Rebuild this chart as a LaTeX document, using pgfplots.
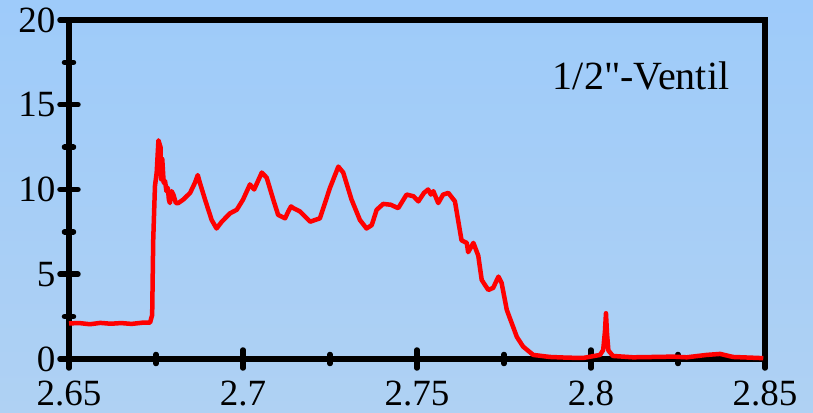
\documentclass[border=0pt]{standalone}
\usepackage{pgfplots}
\pgfplotsset{compat=1.18}
\usepackage{fontspec}
\setmainfont{Liberation Serif}
\newfontfamily\plainserif{Liberation Serif}
\definecolor{bgtop}{RGB}{158,203,250}
\definecolor{bgbot}{RGB}{175,209,243}
\definecolor{curve}{RGB}{255,0,0}
\begin{document}
\begin{tikzpicture}[x=1pt,y=1pt]
\shade[top color=bgtop,bottom color=bgbot] (-69,-53) rectangle (744,359);
\begin{axis}[
  at={(0,0)}, anchor=south west,
  scale only axis, width=696pt, height=339pt,
  xmin=2.65, xmax=2.85, ymin=0, ymax=20,
  axis line style={line width=5.5pt, line cap=round, black},
  xtick={2.65,2.7,2.75,2.8,2.85},
  ytick={0,5,10,15,20},
  minor xtick={2.675,2.725,2.775,2.825},
  minor ytick={2.5,7.5,12.5,17.5},
  xticklabels={2.65,2.7,2.75,2.8,2.85},
  tick align=center,
  major tick length=18pt,
  minor tick length=9pt,
  tick style={black, line width=5.5pt, line cap=round},
  xtick pos=bottom, ytick pos=left,
  ticklabel style={font=\fontsize{37}{40}\selectfont},
  /pgf/number format/assume math mode=true,
  yticklabel style={anchor=east, xshift=-1pt},
  xticklabel style={anchor=north, yshift=-9pt},
  clip=false,
]
\addplot[curve, line width=4.5pt, line join=round] coordinates {
(2.6500,2.10) (2.6530,2.12) (2.6560,2.05) (2.6590,2.13) (2.6620,2.08)
(2.6650,2.12) (2.6680,2.07) (2.6710,2.14) (2.6733,2.15) (2.6739,2.6)
(2.6742,7.0) (2.6747,10.2) (2.6752,11.0) (2.6757,12.9) (2.6760,12.7)
(2.6763,12.5) (2.6765,10.6) (2.6768,11.8) (2.6772,10.4) (2.6776,10.5)
(2.6780,9.9) (2.6784,10.1) (2.6787,9.4) (2.6790,9.2) (2.6795,9.9)
(2.6800,9.7) (2.6807,9.2) (2.6814,9.2) (2.6828,9.4) (2.6848,9.8)
(2.6862,10.4) (2.6870,10.85) (2.6876,10.4) (2.6891,9.4) (2.6910,8.2)
(2.6924,7.7) (2.6939,8.1) (2.6963,8.6) (2.6982,8.8) (2.7000,9.4)
(2.7020,10.3) (2.7032,10.0) (2.7054,11.0) (2.7068,10.7) (2.7087,9.4)
(2.7101,8.5) (2.7121,8.3) (2.7130,8.7) (2.7138,9.0) (2.7145,8.9)
(2.7164,8.7) (2.7193,8.1) (2.7221,8.3) (2.7250,10.1) (2.7274,11.35)
(2.7288,11.0) (2.7312,9.4) (2.7336,8.2) (2.7355,7.7) (2.7370,7.9)
(2.7384,8.8) (2.7403,9.15) (2.7425,9.1) (2.7435,9.0) (2.7446,8.9)
(2.7458,9.3) (2.7470,9.7) (2.7490,9.6) (2.7504,9.3) (2.7520,9.8)
(2.7532,10.0) (2.7540,9.7) (2.7547,9.9) (2.7561,9.2) (2.7575,9.7)
(2.7590,9.8) (2.7609,9.3) (2.7628,7.0) (2.7643,6.85) (2.7647,6.3)
(2.7662,6.85) (2.7676,6.1) (2.7686,4.66) (2.7705,4.07) (2.7719,4.2)
(2.7734,4.86) (2.7743,4.5) (2.7758,2.9) (2.7767,2.4) (2.7787,1.3)
(2.7805,0.73) (2.7834,0.24) (2.7882,0.12) (2.7930,0.08) (2.7977,0.06)
(2.8026,0.24) (2.8035,0.53) (2.8040,1.6) (2.8043,2.7) (2.8046,1.5)
(2.8050,0.5) (2.8063,0.18) (2.8121,0.1) (2.8180,0.12) (2.8236,0.14)
(2.8275,0.1) (2.8332,0.24) (2.8371,0.3) (2.8408,0.12) (2.8495,0.05)
};
\node[anchor=base west, font=\plainserif\fontsize{40}{44}\selectfont, inner sep=0pt] at (axis cs:2.7890,15.9) {1/2"-Ventil};
\end{axis}
\end{tikzpicture}
\end{document}
